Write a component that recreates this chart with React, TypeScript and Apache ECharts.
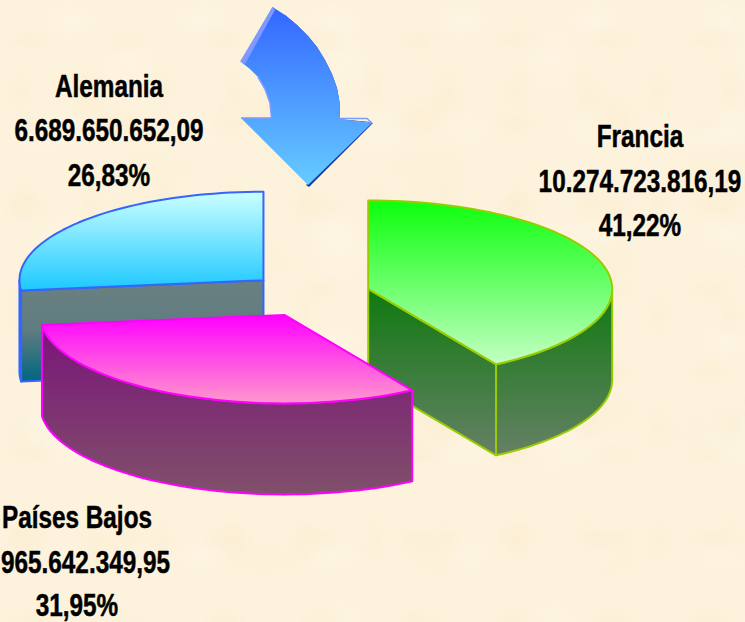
import React, { useEffect, useRef } from "react";
import * as echarts from "echarts";

const categories = ["Francia", "Países Bajos", "Alemania"];
const amounts = ["10.274.723.816,19", "965.642.349,95", "6.689.650.652,09"];
const percentLabels = ["41,22%", "31,95%", "26,83%"];
const percents = [41.22, 31.95, 26.83];

const CX = 309, CY = 295, RX = 244, RY = 88.5, DEPTH = 91, EXPLODE = 61;
const FONT = 'bold 32px "Liberation Sans", Arial, sans-serif';
const TEXT_SQUEEZE = 0.76;

const looks = [
  { stroke: "#99cc00", top: ["#0dff0d", "#c4ffc4"], wall: [[0, "#0f7a0f"], [1, "#668066"]], order: 20, nudge: 0.5 },
  { stroke: "#ff00ff", top: ["#ff00ff", "#ff99cc"], wall: [[0, "#7a147a"], [1, "#80506a"]], order: 30, nudge: 2 },
  { stroke: "#3366ff", top: ["#ccffff", "#1cc8ff"], wall: [[0, "#6b8080"], [0.5, "#5f7c80"], [1, "#006680"]], order: 10, nudge: 0 },
];
const labelSpots = [
  { x: 640, ys: [136, 181, 225] },
  { x: 77, ys: [517, 562, 605], amountRight: 170 },
  { x: 109, ys: [86, 130, 175] },
];

const rad = (d: number) => (d * Math.PI) / 180;

function renderSlice(params: any, api: any) {
  const i = params.dataIndex;
  const total = percents.reduce((a, b) => a + b, 0);
  const start = (percents.slice(0, i).reduce((a, b) => a + b, 0) / total) * 360;
  const end = start + (api.value(0) / total) * 360;
  const mid = (start + end) / 2;
  const look = looks[i];
  const cx = CX + look.nudge + EXPLODE * Math.sin(rad(mid));
  const cy = CY - EXPLODE * (RY / RX) * Math.cos(rad(mid));
  const pt = (a: number): number[] => [cx + RX * Math.sin(rad(a)), cy - RY * Math.cos(rad(a))];
  const arc = (a: number, b: number): number[][] => {
    const n = Math.max(2, Math.ceil(Math.abs(b - a) / 2));
    const out: number[][] = [];
    for (let k = 0; k <= n; k++) out.push(pt(a + ((b - a) * k) / n));
    return out;
  };
  const down = (p: number[]) => [p[0], p[1] + DEPTH];
  const walls: number[][][] = [];
  if (Math.sin(rad(start)) < -1e-6) walls.push([[cx, cy], pt(start), down(pt(start)), [cx, cy + DEPTH]]);
  if (Math.sin(rad(end)) > 1e-6) walls.push([[cx, cy], pt(end), down(pt(end)), [cx, cy + DEPTH]]);
  const a0 = Math.max(start, 90), a1 = Math.min(end, 270);
  if (a1 > a0) {
    const front = arc(a0, a1);
    walls.push([...front, ...front.slice().reverse().map(down)]);
  }
  const ys = walls.flat().map((p) => p[1]);
  const wallFill = new echarts.graphic.LinearGradient(
    0, Math.min(...ys), 0, Math.max(...ys),
    look.wall.map(([offset, color]) => ({ offset, color })) as any,
    true
  );
  const children: any[] = walls.map((pts) => ({
    type: "polygon",
    z2: look.order,
    shape: { points: pts },
    style: { fill: wallFill, stroke: look.stroke, lineWidth: 2, lineJoin: "round" },
  }));
  children.push({
    type: "polygon",
    z2: look.order + 1,
    shape: { points: [[cx, cy], ...arc(start, end)] },
    style: {
      fill: new echarts.graphic.LinearGradient(0, 0, 0, 1, [
        { offset: 0, color: look.top[0] },
        { offset: 1, color: look.top[1] },
      ]),
      stroke: look.stroke,
      lineWidth: 2,
      lineJoin: "round",
    },
  });
  const spot: any = labelSpots[i];
  [categories[i], amounts[i], percentLabels[i]].forEach((text, line) => {
    const right = line === 1 && spot.amountRight;
    children.push({
      type: "text",
      z2: 50,
      x: right || spot.x,
      y: spot.ys[line],
      scaleX: TEXT_SQUEEZE,
      style: {
        text,
        x: 0,
        y: 0,
        align: right ? "right" : "center",
        verticalAlign: "middle",
        font: FONT,
        fill: "#000000",
        stroke: "#000000",
        lineWidth: 0.5,
      },
    });
  });
  return { type: "group", children };
}

const arrowBody = [
  [272.5, 7], [285, 15], [297, 25], [308, 36], [317, 47], [325, 60], [332, 74], [337, 88], [339.5, 102], [340, 119],
  [372, 123], [308, 185], [241, 118], [271.5, 118], [270, 103], [265, 89], [258, 77], [250, 69], [241, 62],
];
const arrowGlow = [[272.5, 7], [275, 10], [245, 64], [240, 61.5]];
const arrowDark = [
  [285, 15], [297, 25], [308, 36], [317, 47], [325, 60], [332, 74], [337, 88], [339.5, 102], [340, 119], [342, 120],
  [373, 123], [309, 187], [306, 185], [370, 122], [338, 119], [337.5, 102], [335, 88], [330, 74], [323, 60], [315, 47],
  [306, 36], [295, 25], [283, 15],
];
const arrowInnerCurve = [[241, 118], [271.5, 118], [270, 103], [265, 89], [258, 77]];
const arrowHeadEdge = [[340, 118.5], [367, 118.5], [372, 123]];

const blotch = (color: string, x: number, y: number, rx: number, ry: number) =>
  `radial-gradient(ellipse ${rx}px ${ry}px at ${x}px ${y}px, ${color}, transparent)`;
const blotches = [
  { g: blotch("rgba(249,234,200,.3)", 30, 40, 28, 16), size: "97px 83px" },
  { g: blotch("rgba(255,248,235,.35)", 70, 20, 34, 22), size: "131px 107px" },
  { g: blotch("rgba(250,236,204,.3)", 90, 110, 44, 26), size: "173px 149px" },
  { g: blotch("rgba(255,247,232,.35)", 130, 60, 36, 44), size: "211px 191px" },
  { g: blotch("rgba(249,234,200,.25)", 20, 90, 18, 30), size: "71px 113px" },
  { g: blotch("rgba(250,236,206,.3)", 150, 170, 60, 34), size: "283px 257px" },
  { g: blotch("rgba(255,248,236,.3)", 40, 130, 50, 30), size: "337px 293px" },
];

export default function App() {
  const ref = useRef<HTMLDivElement>(null);
  useEffect(() => {
    document.body.style.margin = "0";
    const chart = echarts.init(ref.current!, undefined, { renderer: "svg" });
    chart.setOption({
      animation: false,
      backgroundColor: "transparent",
      series: [
        {
          type: "custom",
          coordinateSystem: "none",
          clip: false,
          silent: true,
          renderItem: renderSlice,
          data: percents.map((v) => [v]),
        },
      ],
      graphic: [
        { type: "polygon", shape: { points: arrowDark }, style: { fill: "#1f3a9c" } },
        {
          type: "polygon",
          shape: { points: arrowBody },
          style: {
            fill: new echarts.graphic.LinearGradient(0, 0, 0, 1, [
              { offset: 0, color: "#3366ff" },
              { offset: 1, color: "#66ccff" },
            ]),
          },
        },
        { type: "polygon", shape: { points: arrowGlow }, style: { fill: "#8099ff" } },
        { type: "polyline", shape: { points: arrowInnerCurve }, style: { fill: "none", stroke: "#8099ff", lineWidth: 1.5 } },
        { type: "polyline", shape: { points: arrowHeadEdge }, style: { fill: "none", stroke: "#8099ff", lineWidth: 1.5 } },
      ],
    });
    return () => chart.dispose();
  }, []);
  return (
    <div
      ref={ref}
      style={{
        position: "absolute",
        left: 0,
        top: 0,
        width: 745,
        height: 622,
        overflow: "hidden",
        backgroundColor: "#fdf2dc",
        backgroundImage: blotches.map((b) => b.g).join(","),
        backgroundSize: blotches.map((b) => b.size).join(","),
      }}
    />
  );
}
